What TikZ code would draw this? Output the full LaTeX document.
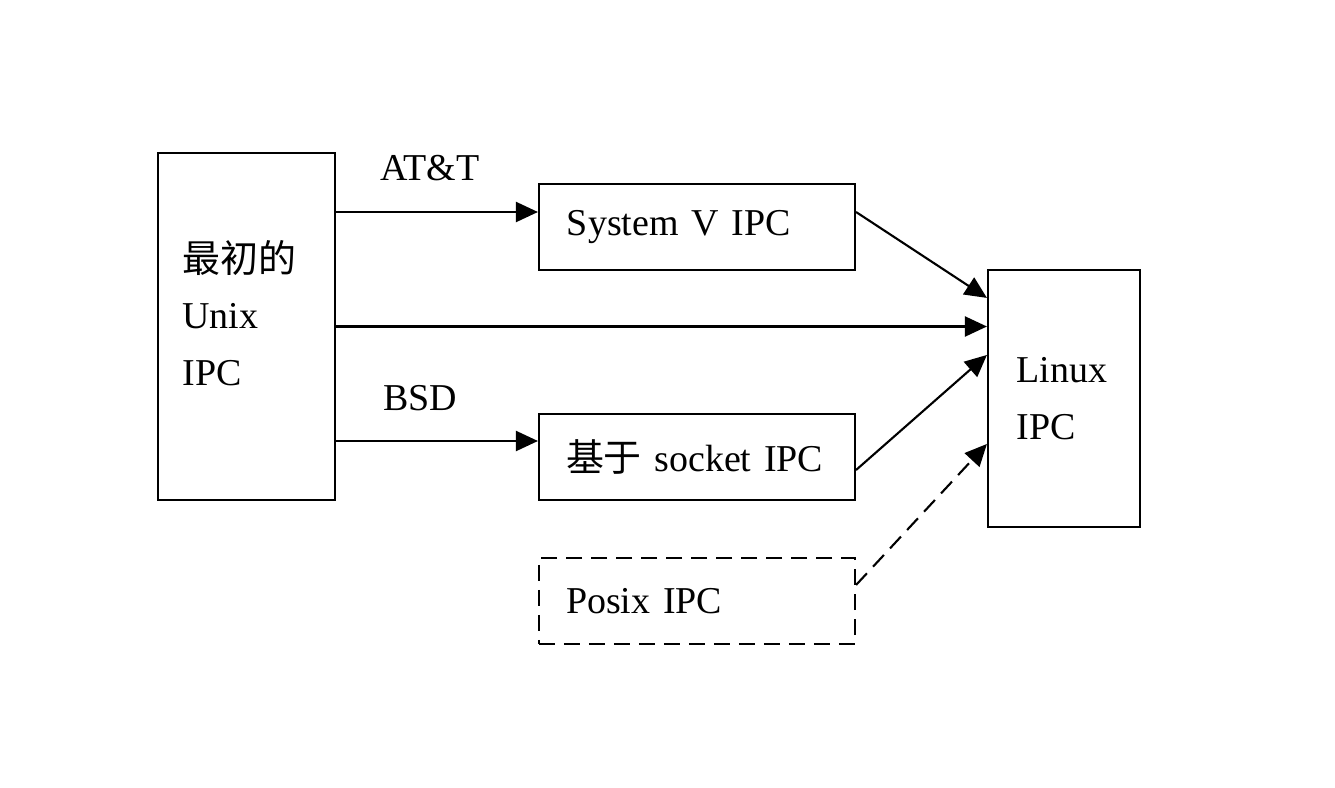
\documentclass[tikz,border=0pt]{standalone}
\usepackage{fontspec}
\setmainfont{Liberation Serif}
\newfontfamily\cjk{Noto Sans CJK SC}
\usetikzlibrary{arrows.meta}

\begin{document}
\begin{tikzpicture}[line width=0.6pt, font=\fontsize{10.8}{16}\selectfont,
	box/.style={draw, rectangle, align=left, inner xsep=0pt},
	dashbox/.style={box, dash pattern=on 1.6mm off 0.9mm},
	arr/.style={-{Triangle[length=2.2mm,width=2mm]}}]
	\useasboundingbox (0,0) rectangle (13.35,7.87);
	\node[box, minimum width=1.77cm, minimum height=3.47cm] (unix) at (2.465,4.605) {};
	\node[align=left, text width=1.25cm, inner sep=0pt] (unixtxt) at (2.45,4.74) {{\cjk 最初的}\\Unix\\IPC};
	\node[box, minimum width=3.16cm, minimum height=0.86cm, text width=2.6cm] (sysv) at (6.97,5.60) {System V IPC};
	\node[box, minimum width=3.16cm, minimum height=0.86cm, text width=2.62cm] (sock) at (6.97,3.30) {{\cjk 基于} socket IPC};
	\node[dashbox, minimum width=3.16cm, minimum height=0.86cm, text width=2.62cm] (posix) at (6.97,1.86) {Posix IPC};
	\node[box, minimum width=1.52cm, minimum height=2.57cm, text width=0.95cm] (linux) at (10.64,3.885)
		{Linux\\IPC};
	\node (att) at (4.30,6.19) {AT\&T};
	\node (bsd) at (4.20,3.89) {BSD};
	\coordinate (sysvin) at ([yshift=1.5mm]sysv.west);
	\coordinate (sockin) at ([yshift=1.6mm]sock.west);
	% connectors
	\draw[arr] (unix.east |- sysvin) -- (sysvin);
	\draw[arr] (unix.east |- sockin) -- (sockin);
	\draw[arr] (unix.east) -- (unix.east -| linux.west);
	\draw[arr] ([yshift=1.5mm]sysv.east) -- ([yshift=-2.9mm]linux.north west);
	\draw[arr] ([yshift=-1.3mm]sock.east) -- ([yshift=-8.6mm]linux.north west);
	\draw[arr, dash pattern=on 1.6mm off 0.9mm] ([yshift=1.6mm]posix.east) -- ([yshift=-17.5mm]linux.north west);
\end{tikzpicture}
\end{document}
